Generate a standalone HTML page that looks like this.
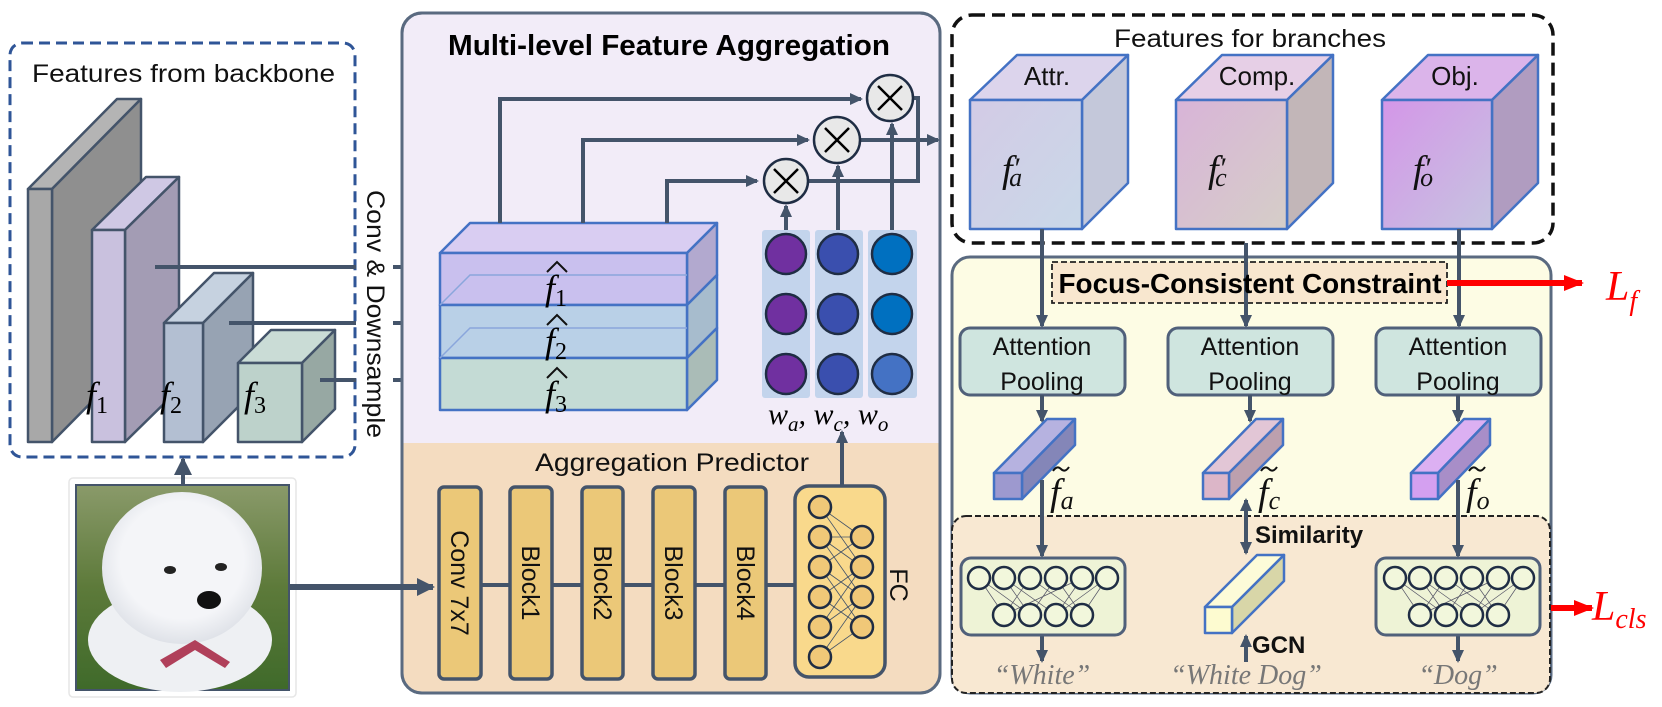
<!DOCTYPE html>
<html><head><meta charset="utf-8"><style>
html,body{margin:0;padding:0;background:#fff;}
svg{display:block;}
.s{font-family:"Liberation Sans",sans-serif;}
.m{font-family:"Liberation Serif",serif;font-style:italic;}
</style></head><body>
<svg width="1662" height="707" viewBox="0 0 1662 707" xmlns="http://www.w3.org/2000/svg">
<defs>
<marker id="ar" markerWidth="14" markerHeight="14" refX="11" refY="7" orient="auto" markerUnits="userSpaceOnUse"><path d="M0,1 L13,7 L0,13 Z" fill="#44546a"/></marker>
<marker id="arb" markerWidth="20" markerHeight="20" refX="16" refY="10" orient="auto" markerUnits="userSpaceOnUse"><path d="M0,1 L18,10 L0,19 Z" fill="#44546a"/></marker>
<marker id="arr" markerWidth="22" markerHeight="20" refX="18" refY="10" orient="auto" markerUnits="userSpaceOnUse"><path d="M0,2 L20,10 L0,18 Z" fill="#ff0000"/></marker>
<linearGradient id="grass" x1="0" y1="0" x2="0" y2="1"><stop offset="0" stop-color="#8a9a6a"/><stop offset="0.5" stop-color="#5d7a3a"/><stop offset="1" stop-color="#3f6a2a"/></linearGradient>
<linearGradient id="ca" x1="0" y1="0" x2="1" y2="1"><stop offset="0" stop-color="#d3cbe6"/><stop offset="1" stop-color="#c9d8e8"/></linearGradient>
<linearGradient id="cc" x1="0" y1="0" x2="1" y2="1"><stop offset="0" stop-color="#d8b4d8"/><stop offset="1" stop-color="#d6cec8"/></linearGradient>
<linearGradient id="co" x1="0" y1="0" x2="1" y2="1"><stop offset="0" stop-color="#d496e8"/><stop offset="1" stop-color="#c6c4e0"/></linearGradient>
<radialGradient id="fur" cx="0.5" cy="0.45" r="0.55"><stop offset="0.7" stop-color="#f4f5f8"/><stop offset="1" stop-color="#dfe2e8"/></radialGradient>
</defs>

<!-- Left dashed box -->
<rect x="10" y="43" width="345" height="414" rx="12" fill="none" stroke="#2f5597" stroke-width="3" stroke-dasharray="11,6"/>
<text x="32" y="82" class="s" font-size="25" textLength="303" lengthAdjust="spacingAndGlyphs" fill="#111">Features from backbone</text>

<!-- slabs -->
<g stroke="#44546a" stroke-width="2.5" stroke-linejoin="round">
<polygon points="28,189 117,99 141,99 52,189" fill="#b4b4b4"/>
<polygon points="52,189 141,99 141,352 52,442" fill="#8f8f8f"/>
<rect x="28" y="189" width="24" height="253" fill="#a8a8a8"/>

<polygon points="92,230 146,177 179,177 125,230" fill="#cfc8e4"/>
<polygon points="125,230 179,177 179,389 125,442" fill="#a39cb4"/>
<rect x="92" y="230" width="33" height="212" fill="#c9c1de"/>

<polygon points="164,323 214,273 253,273 203,323" fill="#c6d2e0"/>
<polygon points="203,323 253,273 253,392 203,442" fill="#97a3b3"/>
<rect x="164" y="323" width="39" height="119" fill="#b3bfd2"/>

<polygon points="238,363 271,330 335,330 302,363" fill="#cadcd6"/>
<polygon points="302,363 335,330 335,409 302,442" fill="#97a8a3"/>
<rect x="238" y="363" width="64" height="79" fill="#bdd2cb"/>
</g>
<text x="86" y="407" class="m" font-size="36">f<tspan font-size="24" font-style="normal" dy="6">1</tspan></text>
<text x="160" y="407" class="m" font-size="36">f<tspan font-size="24" font-style="normal" dy="6">2</tspan></text>
<text x="244" y="407" class="m" font-size="36">f<tspan font-size="24" font-style="normal" dy="6">3</tspan></text>

<!-- slab lines -->
<g stroke="#44546a" stroke-width="4" fill="none">
<line x1="155" y1="267" x2="356" y2="267"/>
<line x1="229" y1="323" x2="356" y2="323"/>
<line x1="320" y1="380" x2="356" y2="380"/>
<line x1="393" y1="267" x2="433" y2="267" marker-end="url(#arb)"/>
<line x1="393" y1="323" x2="433" y2="323" marker-end="url(#arb)"/>
<line x1="393" y1="380" x2="433" y2="380" marker-end="url(#arb)"/>
</g>
<text transform="translate(367,190) rotate(90)" class="s" font-size="25" textLength="248" lengthAdjust="spacingAndGlyphs" fill="#111">Conv &amp; Downsample</text>

<!-- picture -->
<rect x="69" y="478" width="227" height="219" rx="4" fill="#fff" stroke="#e6e6e6" stroke-width="1.5"/>
<rect x="76" y="485" width="213" height="205" fill="url(#grass)" stroke="#44546a" stroke-width="2"/>
<ellipse cx="180" cy="640" rx="92" ry="52" fill="#eef0f3"/>
<ellipse cx="182" cy="568" rx="80" ry="76" fill="url(#fur)"/>
<ellipse cx="170" cy="570" rx="6" ry="4" fill="#222"/>
<ellipse cx="221" cy="567" rx="6" ry="4" fill="#222"/>
<ellipse cx="209" cy="600" rx="12" ry="9" fill="#111"/>
<path d="M160,660 L195,640 L230,662 L225,668 L195,650 L166,668 Z" fill="#b0405a"/>
<line x1="183" y1="485" x2="183" y2="459" stroke="#44546a" stroke-width="4" marker-end="url(#arb)"/>

<!-- MFA box -->
<rect x="402" y="13" width="538" height="680" rx="20" fill="#f2ecf8" stroke="#5a6a80" stroke-width="3"/>
<path d="M403.5,443 H938.5 V673 Q938.5,691.5 920,691.5 H422 Q403.5,691.5 403.5,673 Z" fill="#f4dcc0"/>
<rect x="402" y="13" width="538" height="680" rx="20" fill="none" stroke="#5a6a80" stroke-width="3"/>
<text x="448" y="55" class="s" font-size="29" font-weight="bold" textLength="442" lengthAdjust="spacingAndGlyphs" fill="#000">Multi-level Feature Aggregation</text>

<!-- stack -->
<g stroke="#4472c4" stroke-width="2.5" stroke-linejoin="round">
<polygon points="440,253 470,223 717,223 687,253" fill="#d9cdf2"/>
<polygon points="687,253 717,223 717,275 687,305" fill="#b2a9cf"/>
<polygon points="687,305 717,275 717,328 687,358" fill="#a7bccd"/>
<polygon points="687,358 717,328 717,380 687,410" fill="#aabcb7"/>
<rect x="440" y="253" width="247" height="52" fill="#c9c0ee"/>
<rect x="440" y="305" width="247" height="53" fill="#b9d0e7"/>
<rect x="440" y="358" width="247" height="52" fill="#c4dbd5"/>
</g>
<g stroke="#8aa6dc" stroke-width="1.5" fill="none">
<polyline points="440,305 470,275 687,275"/>
<polyline points="440,358 470,328 687,328"/>
</g>
<g class="m" font-size="36">
<text x="545" y="300">f<tspan font-size="24" font-style="normal" dy="6">1</tspan></text>
<text x="545" y="353">f<tspan font-size="24" font-style="normal" dy="6">2</tspan></text>
<text x="545" y="406">f<tspan font-size="24" font-style="normal" dy="6">3</tspan></text>
</g>
<g stroke="#111" stroke-width="2" fill="none">
<path d="M547,272 L557,262 L567,272"/>
<path d="M547,325 L557,315 L567,325"/>
<path d="M547,378 L557,368 L567,378"/>
</g>

<!-- connectors to multiply -->
<g stroke="#44546a" stroke-width="4" fill="none">
<polyline points="500,223 500,99 861,99" marker-end="url(#ar)"/>
<polyline points="583,223 583,140 808,140" marker-end="url(#ar)"/>
<polyline points="667,223 667,181 757,181" marker-end="url(#ar)"/>
<line x1="786" y1="230" x2="786" y2="206" marker-end="url(#ar)"/>
<line x1="838" y1="230" x2="838" y2="166" marker-end="url(#ar)"/>
<line x1="892" y1="230" x2="892" y2="124" marker-end="url(#ar)"/>
<polyline points="808,181 918,181 918,98 913,98"/>
<line x1="860" y1="140" x2="938" y2="140" marker-end="url(#ar)"/>
</g>
<g stroke="#1f2d44" stroke-width="2.5">
<circle cx="786" cy="181" r="22" fill="#e8e8e8"/>
<circle cx="837" cy="140" r="23" fill="#e8e8e8"/>
<circle cx="890" cy="98" r="23" fill="#e8e8e8"/>
</g>
<g stroke="#000" stroke-width="2.5">
<path d="M774,169 L798,193 M798,169 L774,193"/>
<path d="M825,128 L849,152 M849,128 L825,152"/>
<path d="M878,86 L902,110 M902,86 L878,110"/>
</g>

<!-- weights -->
<rect x="762" y="230" width="48" height="168" rx="3" fill="#c3d4ec"/>
<rect x="815" y="230" width="48" height="168" rx="3" fill="#c3d4ec"/>
<rect x="868" y="230" width="49" height="168" rx="3" fill="#c3d4ec"/>
<g stroke="#1f2d44" stroke-width="2.5">
<circle cx="786" cy="254" r="20" fill="#7030a0"/><circle cx="786" cy="314" r="20" fill="#7030a0"/><circle cx="786" cy="374" r="20" fill="#7030a0"/>
<circle cx="838" cy="254" r="20" fill="#3a4fae"/><circle cx="838" cy="314" r="20" fill="#3a4fae"/><circle cx="838" cy="374" r="20" fill="#3a4fae"/>
<circle cx="892" cy="254" r="20" fill="#0070c0"/><circle cx="892" cy="314" r="20" fill="#0070c0"/><circle cx="892" cy="374" r="20" fill="#4472c4"/>
</g>
<text x="768" y="424" class="m" font-size="30">w<tspan font-size="21" dy="7">a</tspan><tspan dy="-7">, w</tspan><tspan font-size="21" dy="7">c</tspan><tspan dy="-7">, w</tspan><tspan font-size="21" dy="7">o</tspan></text>

<!-- Aggregation predictor -->
<text x="672" y="471" class="s" font-size="25" text-anchor="middle" textLength="274" lengthAdjust="spacingAndGlyphs" fill="#111">Aggregation Predictor</text>
<line x1="289" y1="587" x2="433" y2="587" stroke="#44546a" stroke-width="6" marker-end="url(#arb)"/>
<line x1="481" y1="585" x2="795" y2="585" stroke="#44546a" stroke-width="4"/>
<g stroke="#44546a" stroke-width="3.5" fill="#ebc878">
<rect x="439" y="487" width="42" height="192" rx="5"/>
<rect x="510" y="487" width="42" height="192" rx="5"/>
<rect x="582" y="487" width="41" height="192" rx="5"/>
<rect x="653" y="487" width="42" height="192" rx="5"/>
<rect x="725" y="487" width="41" height="192" rx="5"/>
<rect x="795" y="486" width="90" height="191" rx="14" fill="#f9d98c"/>
</g>
<g class="s" font-size="25" fill="#111" text-anchor="middle">
<text transform="translate(451,583) rotate(90)">Conv 7x7</text>
<text transform="translate(522,583) rotate(90)">Block1</text>
<text transform="translate(594,583) rotate(90)">Block2</text>
<text transform="translate(665,583) rotate(90)">Block3</text>
<text transform="translate(737,583) rotate(90)">Block4</text>
<text transform="translate(890,585) rotate(90)">FC</text>
</g>
<g stroke="#44546a" stroke-width="0.8">
<path d="M820,507 L862,537 M820,507 L862,567 M820,537 L862,537 M820,537 L862,597 M820,567 L862,537 M820,567 L862,627 M820,597 L862,567 M820,597 L862,627 M820,627 L862,567 M820,627 L862,597 M820,657 L862,597 M820,657 L862,627 M820,537 L862,567 M820,567 L862,597"/>
</g>
<g stroke="#1f2d44" stroke-width="2.5" fill="#f0c878">
<circle cx="820" cy="507" r="11"/><circle cx="820" cy="537" r="11"/><circle cx="820" cy="567" r="11"/><circle cx="820" cy="597" r="11"/><circle cx="820" cy="627" r="11"/><circle cx="820" cy="657" r="11"/>
<circle cx="862" cy="537" r="11"/><circle cx="862" cy="567" r="11"/><circle cx="862" cy="597" r="11"/><circle cx="862" cy="627" r="11"/>
</g>
<line x1="842" y1="486" x2="842" y2="432" stroke="#44546a" stroke-width="4" marker-end="url(#ar)"/>

<!-- Features for branches -->
<rect x="952" y="15" width="601" height="228" rx="20" fill="none" stroke="#111" stroke-width="3.5" stroke-dasharray="13,7"/>
<text x="1250" y="47" class="s" font-size="25" text-anchor="middle" textLength="272" lengthAdjust="spacingAndGlyphs" fill="#111">Features for branches</text>
<g stroke="#4472c4" stroke-width="2.5" stroke-linejoin="round">
<polygon points="970,100 1017,55 1128,55 1082,100" fill="#dcd4ec"/>
<polygon points="1082,100 1128,55 1128,183 1082,229" fill="#c4c8da"/>
<rect x="970" y="100" width="112" height="129" fill="url(#ca)"/>
<polygon points="1176,100 1222,55 1333,55 1287,100" fill="#e6cfe6"/>
<polygon points="1287,100 1333,55 1333,183 1287,229" fill="#c2b6b8"/>
<rect x="1176" y="100" width="111" height="129" fill="url(#cc)"/>
<polygon points="1382,100 1428,55 1538,55 1492,100" fill="#dbb4ea"/>
<polygon points="1492,100 1538,55 1538,183 1492,229" fill="#b09cc0"/>
<rect x="1382" y="100" width="110" height="129" fill="url(#co)"/>
</g>
<g class="s" font-size="26" fill="#111" text-anchor="middle">
<text x="1047" y="85">Attr.</text><text x="1257" y="85">Comp.</text><text x="1455" y="85">Obj.</text>
</g>
<g class="m" font-size="38" fill="#111">
<text x="1002" y="182">f<tspan font-style="normal" font-size="30" dx="2" dy="-4">′</tspan><tspan font-size="26" dx="-12" dy="8">a</tspan></text>
<text x="1208" y="182">f<tspan font-style="normal" font-size="30" dx="2" dy="-4">′</tspan><tspan font-size="26" dx="-12" dy="8">c</tspan></text>
<text x="1413" y="182">f<tspan font-style="normal" font-size="30" dx="2" dy="-4">′</tspan><tspan font-size="26" dx="-12" dy="8">o</tspan></text>
</g>

<!-- Focus-consistent region -->
<rect x="952" y="257" width="599" height="436" rx="18" fill="#fdfce4" stroke="#5a6a80" stroke-width="3"/>
<rect x="952" y="516" width="598" height="177" rx="14" fill="#f8e8d2" stroke="#222" stroke-width="2" stroke-dasharray="6,3"/>
<rect x="1052" y="262" width="395" height="41" fill="#f8e7cf" stroke="#222" stroke-width="1.8" stroke-dasharray="6,3"/>
<g stroke="#44546a" stroke-width="4">
<line x1="1042" y1="229" x2="1042" y2="326" marker-end="url(#ar)"/>
<line x1="1246" y1="243" x2="1246" y2="326" marker-end="url(#ar)"/>
<line x1="1459" y1="229" x2="1459" y2="326" marker-end="url(#ar)"/>
</g>
<text x="1250" y="293" class="s" font-size="28" font-weight="bold" text-anchor="middle" textLength="383" lengthAdjust="spacingAndGlyphs" fill="#000">Focus-Consistent Constraint</text>
<line x1="1447" y1="283" x2="1582" y2="283" stroke="#ff0000" stroke-width="6" marker-end="url(#arr)"/>
<text x="1606" y="300" class="m" font-size="42" fill="#ff0000">L<tspan font-size="28" dy="10">f</tspan></text>
<line x1="1551" y1="608" x2="1592" y2="608" stroke="#ff0000" stroke-width="6" marker-end="url(#arr)"/>
<text x="1592" y="620" class="m" font-size="42" fill="#ff0000">L<tspan font-size="28" dy="8">cls</tspan></text>

<g stroke="#50607a" stroke-width="3" fill="#cfe5df">
<rect x="960" y="328" width="165" height="67" rx="10"/>
<rect x="1168" y="328" width="165" height="67" rx="10"/>
<rect x="1376" y="328" width="165" height="67" rx="10"/>
</g>
<g class="s" font-size="25" fill="#111" text-anchor="middle">
<text x="1042" y="355">Attention</text><text x="1042" y="390">Pooling</text>
<text x="1250" y="355">Attention</text><text x="1250" y="390">Pooling</text>
<text x="1458" y="355">Attention</text><text x="1458" y="390">Pooling</text>
</g>
<g stroke="#44546a" stroke-width="4">
<line x1="1042" y1="395" x2="1042" y2="421" marker-end="url(#ar)"/>
<line x1="1250" y1="395" x2="1250" y2="421" marker-end="url(#ar)"/>
<line x1="1458" y1="395" x2="1458" y2="421" marker-end="url(#ar)"/>
</g>

<!-- vectors -->
<g stroke="#4472c4" stroke-width="2.5" stroke-linejoin="round">
<polygon points="994,473 1047,419 1075,419 1022,473" fill="#b6b2e0"/>
<polygon points="1022,473 1075,419 1075,445 1022,499" fill="#8486b8"/>
<rect x="994" y="473" width="28" height="26" fill="#9d99cf"/>
<polygon points="1203,473 1256,419 1283,419 1229,473" fill="#e2c6d6"/>
<polygon points="1229,473 1283,419 1283,445 1229,499" fill="#bca0ae"/>
<rect x="1203" y="473" width="26" height="26" fill="#dcb6c8"/>
<polygon points="1411,473 1464,419 1490,419 1438,473" fill="#dcb0f2"/>
<polygon points="1438,473 1490,419 1490,445 1438,499" fill="#a88ec8"/>
<rect x="1411" y="473" width="27" height="26" fill="#d4a0f0"/>
<polygon points="1205,607 1257,555 1284,555 1232,607" fill="#fdfbd8"/>
<polygon points="1232,607 1284,555 1284,581 1232,633" fill="#d8d6a8"/>
<rect x="1205" y="607" width="27" height="26" fill="#fdfbd0"/>
</g>
<g class="m" font-size="38" fill="#111">
<text x="1050" y="505">f<tspan font-size="26" dy="4">a</tspan></text>
<text x="1258" y="505">f<tspan font-size="26" dy="4">c</tspan></text>
<text x="1466" y="505">f<tspan font-size="26" dy="4">o</tspan></text>
</g>
<g stroke="#111" stroke-width="2" fill="none">
<path d="M1053,471 q4,-6 8,-2 t8,-2"/>
<path d="M1261,471 q4,-6 8,-2 t8,-2"/>
<path d="M1469,471 q4,-6 8,-2 t8,-2"/>
</g>
<g stroke="#44546a" stroke-width="4">
<line x1="1042" y1="480" x2="1042" y2="556" marker-end="url(#ar)"/>
<line x1="1458" y1="480" x2="1458" y2="556" marker-end="url(#ar)"/>
<line x1="1246" y1="525" x2="1246" y2="500" marker-end="url(#ar)"/>
<line x1="1246" y1="525" x2="1246" y2="553" marker-end="url(#ar)"/>
<line x1="1246" y1="662" x2="1246" y2="636" marker-end="url(#ar)"/>
<line x1="1042" y1="635" x2="1042" y2="661" marker-end="url(#ar)"/>
<line x1="1458" y1="635" x2="1458" y2="661" marker-end="url(#ar)"/>
</g>
<text x="1255" y="543" class="s" font-size="24" font-weight="bold" fill="#111">Similarity</text>
<text x="1252" y="653" class="s" font-size="24" font-weight="bold" fill="#111">GCN</text>

<!-- classifiers -->
<g stroke="#50607a" stroke-width="3" fill="#eef3d6">
<rect x="961" y="558" width="164" height="77" rx="10"/>
<rect x="1376" y="558" width="164" height="77" rx="10"/>
</g>
<g stroke="#556" stroke-width="0.7">
<path d="M979,578 L1004,615 M979,578 L1030,615 M1004,578 L1030,615 M1004,578 L1056,615 M1030,578 L1004,615 M1030,578 L1082,615 M1056,578 L1030,615 M1056,578 L1082,615 M1082,578 L1004,615 M1082,578 L1056,615 M1107,578 L1056,615 M1107,578 L1082,615"/>
<path d="M1395,578 L1420,615 M1395,578 L1446,615 M1420,578 L1446,615 M1420,578 L1472,615 M1446,578 L1420,615 M1446,578 L1498,615 M1472,578 L1446,615 M1472,578 L1498,615 M1498,578 L1420,615 M1498,578 L1472,615 M1523,578 L1472,615 M1523,578 L1498,615"/>
</g>
<g stroke="#1f2d44" stroke-width="2.5" fill="#f2f7dc">
<circle cx="979" cy="578" r="11"/><circle cx="1004" cy="578" r="11"/><circle cx="1030" cy="578" r="11"/><circle cx="1056" cy="578" r="11"/><circle cx="1082" cy="578" r="11"/><circle cx="1107" cy="578" r="11"/>
<circle cx="1004" cy="615" r="11"/><circle cx="1030" cy="615" r="11"/><circle cx="1056" cy="615" r="11"/><circle cx="1082" cy="615" r="11"/>
<circle cx="1395" cy="578" r="11"/><circle cx="1420" cy="578" r="11"/><circle cx="1446" cy="578" r="11"/><circle cx="1472" cy="578" r="11"/><circle cx="1498" cy="578" r="11"/><circle cx="1523" cy="578" r="11"/>
<circle cx="1420" cy="615" r="11"/><circle cx="1446" cy="615" r="11"/><circle cx="1472" cy="615" r="11"/><circle cx="1498" cy="615" r="11"/>
</g>
<g font-family="Liberation Serif,serif" font-style="italic" font-size="28" fill="#777" text-anchor="middle">
<text x="1042" y="684">“White”</text>
<text x="1246" y="684">“White Dog”</text>
<text x="1458" y="684">“Dog”</text>
</g>
</svg>
</body></html>
